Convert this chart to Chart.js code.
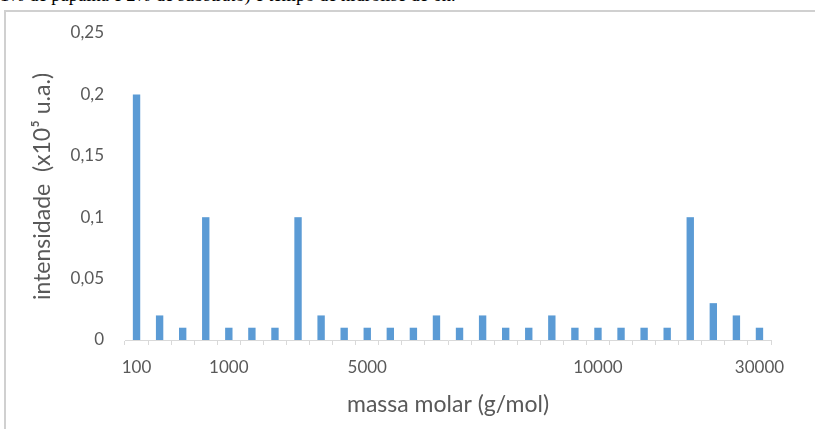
<!DOCTYPE html>
<html>
<head>
<meta charset="utf-8">
<script src="https://cdn.jsdelivr.net/npm/chart.js@4"></script>
<style>
  body { margin: 0; width: 815px; height: 429px; overflow: hidden; background: #fff; position: relative; }
  #caption { position: absolute; left: 0; top: -14px; font: 18.5px "Liberation Serif", serif; line-height: 19px; color: #000; white-space: nowrap; }
  #frame { position: absolute; left: 4px; top: 10px; width: 900px; height: 500px; border-left: 2px solid #d0d0d0; border-top: 2px solid #d0d0d0; }
  #wrap { position: absolute; left: 0; top: 0; width: 815px; height: 429px; }
</style>
</head>
<body>
<div id="caption">1% de papaína e 2% de substrato) e tempo de hidrólise de 6h.</div>
<div id="frame"></div>
<div id="wrap"><canvas id="chart"></canvas></div>
<script>
// one bar per mass class, left to right
const intensidade = [
    0.20, 0.02, 0.01, 0.10, 0.01, 0.01, 0.01,
    0.10, 0.02, 0.01, 0.01, 0.01, 0.01, 0.02,
    0.01, 0.02, 0.01, 0.01, 0.02, 0.01, 0.01,
    0.01, 0.01, 0.01, 0.10, 0.03, 0.02, 0.01
];
// only a few classes carry a label on the axis
const tickLabels = [
    "100", "", "", "", "1000", "", "",
    "", "", "", "5000", "", "", "",
    "", "", "", "", "", "", "10000",
    "", "", "", "", "", "", "30000"
];
const yTicks = [0, 0.05, 0.1, 0.15, 0.2, 0.25];

const textColor = "#595959";
const font = "Lato, 'Liberation Sans', sans-serif";

let chart = new Chart(document.getElementById("chart").getContext("2d"), {
    type: 'bar',
    data: {
        labels: tickLabels,
        datasets: [{
            label: 'intensidade',
            backgroundColor: '#5b9bd5',
            barPercentage: 0.32,
            categoryPercentage: 1,
            data: intensidade
        }]
    },
    options: {
        responsive: true,
        maintainAspectRatio: false,
        animation: false,
        layout: { padding: { left: 25, right: 44, top: 33, bottom: 0 } },
        plugins: { legend: { display: false }, tooltip: { enabled: false } },
        scales: {
            x: {
                grid: { display: true, offset: true, drawOnChartArea: false, tickLength: 5, color: '#d9d9d9' },
                border: { display: true, color: '#d9d9d9', width: 1 },
                ticks: {
                    autoSkip: false, maxRotation: 0, padding: 12, color: textColor,
                    font: { family: font, size: 17 }
                },
                title: {
                    display: true, text: 'massa molar (g/mol)', color: textColor,
                    font: { family: font, size: 23 }, padding: { top: 0, bottom: 11 }
                },
                afterFit: (axis) => { axis.height = 89; }
            },
            y: {
                min: 0, max: 0.25,
                afterBuildTicks: (axis) => { axis.ticks = yTicks.map(v => ({ value: v })); },
                grid: { display: false, drawTicks: false },
                border: { display: false },
                ticks: {
                    padding: 21, color: textColor,
                    font: { family: font, size: 17 },
                    callback: (v) => Number(v.toFixed(2)).toString().replace('.', ',')
                },
                title: {
                    display: true, text: 'intensidade  (x10⁵ u.a.)', color: textColor,
                    font: { family: font, size: 23 }, padding: { top: 4, bottom: 4 }
                },
                afterFit: (axis) => { axis.width = 100; }
            }
        }
    }
});
</script>
</body>
</html>
